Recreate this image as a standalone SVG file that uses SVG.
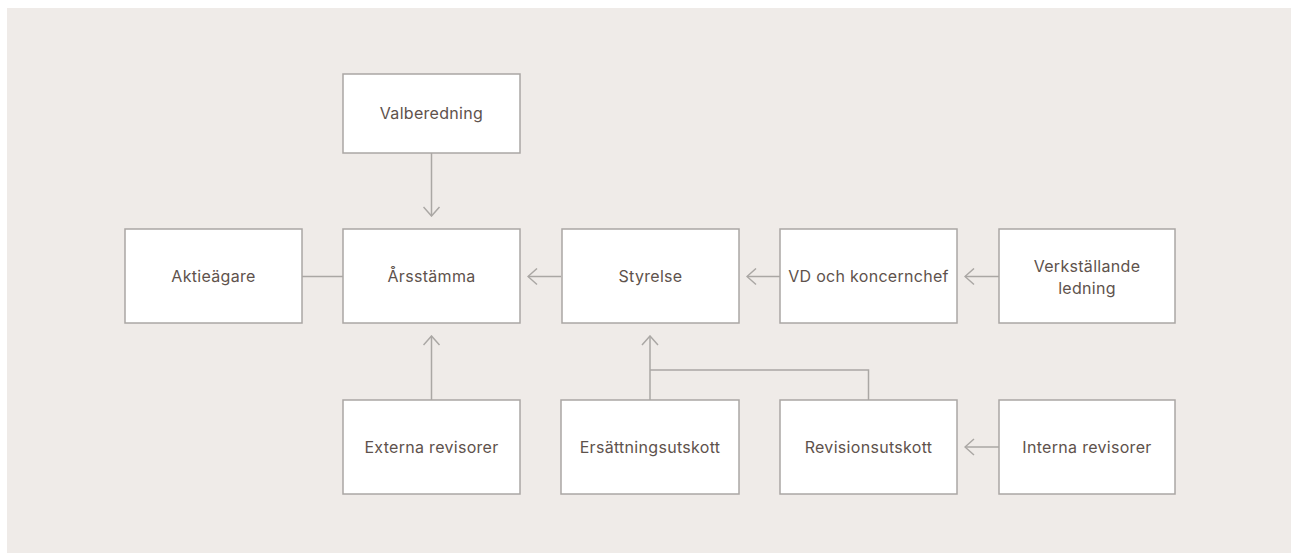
<svg xmlns="http://www.w3.org/2000/svg" width="1291" height="553" viewBox="0 0 1291 553">
<defs>
<style>
.box{fill:#ffffff;stroke:#aaa7a4;stroke-width:1.5}
.lbl{font-family:Inter,"Noto Sans","Liberation Sans",sans-serif;font-size:16px;fill:#5e524c;text-anchor:middle;letter-spacing:0.3px}
.con{fill:none;stroke:#aaa7a4;stroke-width:1.5}
</style>
<marker id="arr" viewBox="0 0 12 18" refX="11" refY="9" markerWidth="12" markerHeight="18" markerUnits="userSpaceOnUse" orient="auto">
<path d="M2,1 L11,9 L2,17" fill="none" stroke="#aaa7a4" stroke-width="1.5"/>
</marker>
</defs>
<rect x="7" y="8" width="1284" height="545" fill="#efebe8"/>
<g id="connectors">
<line class="con" x1="302" y1="276.5" x2="343" y2="276.5"/>
<line class="con" x1="431.5" y1="153" x2="431.5" y2="216" marker-end="url(#arr)"/>
<line class="con" x1="561" y1="276.5" x2="528" y2="276.5" marker-end="url(#arr)"/>
<line class="con" x1="780" y1="276.5" x2="747" y2="276.5" marker-end="url(#arr)"/>
<line class="con" x1="999" y1="276.5" x2="965" y2="276.5" marker-end="url(#arr)"/>
<line class="con" x1="431.5" y1="400" x2="431.5" y2="336" marker-end="url(#arr)"/>
<line class="con" x1="650" y1="400" x2="650" y2="336" marker-end="url(#arr)"/>
<polyline class="con" points="650,370 868.5,370 868.5,400"/>
<line class="con" x1="999" y1="447" x2="965" y2="447" marker-end="url(#arr)"/>
</g>
<g id="valberedning"><rect class="box" x="343" y="74" width="177" height="79"/><text class="lbl" x="431.5" y="119">Valberedning</text></g>
<g id="aktieagare"><rect class="box" x="125" y="229" width="177" height="94"/><text class="lbl" x="213.5" y="282">Aktieägare</text></g>
<g id="arsstamma"><rect class="box" x="343" y="229" width="177" height="94"/><text class="lbl" x="431.5" y="282">Årsstämma</text></g>
<g id="styrelse"><rect class="box" x="562" y="229" width="177" height="94"/><text class="lbl" x="650.5" y="282">Styrelse</text></g>
<g id="vd"><rect class="box" x="780" y="229" width="177" height="94"/><text class="lbl" x="868.5" y="282">VD och koncernchef</text></g>
<g id="verkstallande"><rect class="box" x="999" y="229" width="176" height="94"/><text class="lbl" x="1087" y="272">Verkställande</text><text class="lbl" x="1087" y="294">ledning</text></g>
<g id="externa"><rect class="box" x="343" y="400" width="177" height="94"/><text class="lbl" x="431.5" y="453">Externa revisorer</text></g>
<g id="ersattning"><rect class="box" x="561" y="400" width="178" height="94"/><text class="lbl" x="650" y="453">Ersättningsutskott</text></g>
<g id="revision"><rect class="box" x="780" y="400" width="177" height="94"/><text class="lbl" x="868.5" y="453">Revisionsutskott</text></g>
<g id="interna"><rect class="box" x="999" y="400" width="176" height="94"/><text class="lbl" x="1087" y="453">Interna revisorer</text></g>
</svg>
